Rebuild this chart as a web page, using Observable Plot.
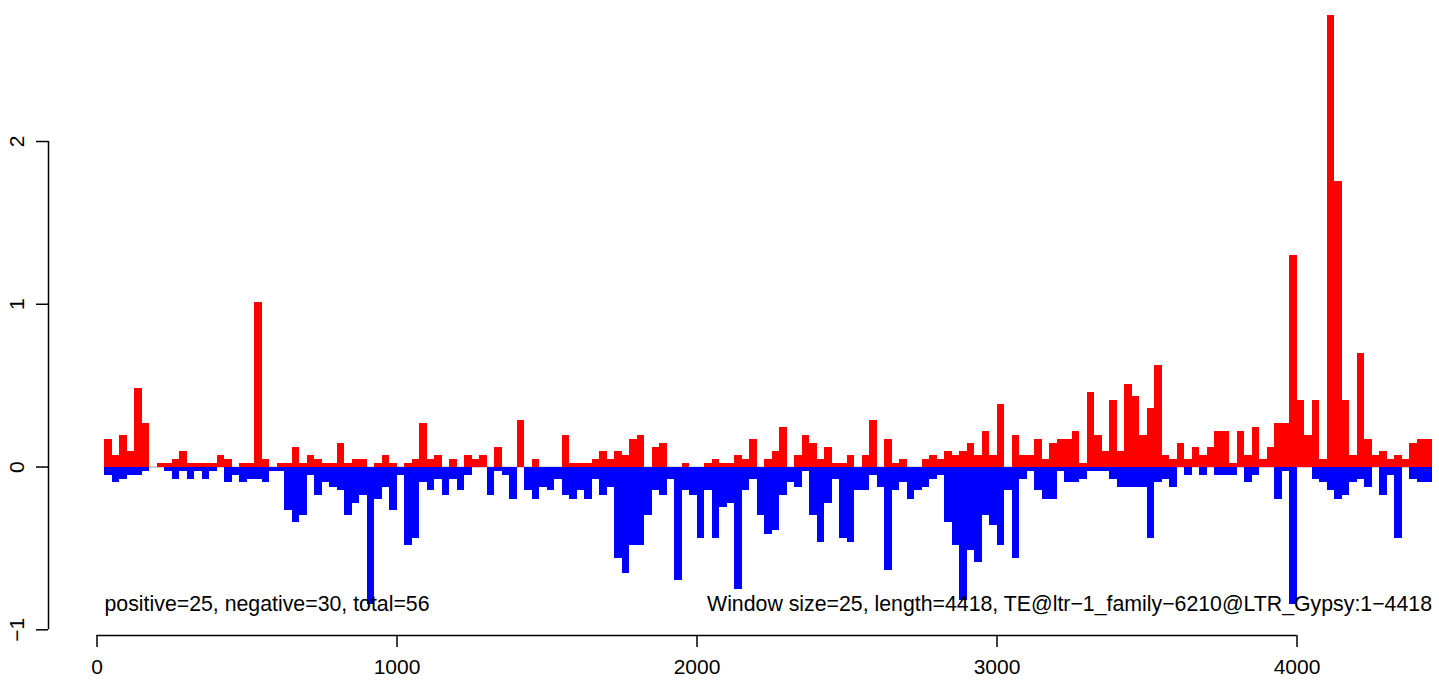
<!DOCTYPE html>
<html><head><meta charset="utf-8">
<script src="https://cdn.jsdelivr.net/npm/d3@7"></script>
<script src="https://cdn.jsdelivr.net/npm/@observablehq/plot@0.6"></script>
<style>html,body{margin:0;padding:0;background:#fff;} svg{display:block}</style>
</head><body><div id="chart"></div>
<script>
const windowSize = 25;
const posValues = [
0.170,0.072,0.195,0.096,0.483,0.268,0,0.023,0.023,0.047,
0.096,0.023,0.023,0.023,0.023,0.072,0.047,0,0.023,0.023,
1.01,0.047,0,0.023,0.023,0.121,0.023,0.072,0.047,0.023,
0.023,0.146,0.023,0.047,0.047,0,0.023,0.072,0.023,0,
0.023,0.047,0.268,0.047,0.072,0,0.047,0,0.072,0.047,
0.072,0,0.121,0,0,0.287,0,0.047,0,0,
0,0.195,0.023,0.023,0.023,0.047,0.096,0.047,0.096,0.072,
0.170,0.195,0,0.121,0.146,0,0,0.023,0,0,
0.023,0.047,0.023,0.023,0.072,0.047,0.170,0,0.047,0.096,
0.244,0,0.072,0.195,0.146,0.047,0.121,0.023,0.023,0.072,
0,0.072,0.287,0,0.170,0.023,0.047,0,0,0.047,
0.072,0.047,0.096,0.072,0.096,0.146,0.072,0.219,0.072,0.385,
0,0.195,0.072,0.072,0.170,0.047,0.146,0.170,0.170,0.219,
0.023,0.459,0.195,0.096,0.410,0.096,0.508,0.434,0.195,0.361,
0.625,0.072,0.047,0.146,0.047,0.121,0.072,0.121,0.219,0.219,
0.023,0.219,0.072,0.244,0.047,0.121,0.268,0.268,1.30,0.410,
0.195,0.410,0.047,2.774,1.754,0.410,0.072,0.700,0.170,0.072,
0.096,0.047,0.072,0.047,0.146,0.170,0.170
];
const negValues = [
0.049,0.098,0.074,0.049,0.049,0.025,0,0,0.025,0.074,
0.025,0.074,0.025,0.074,0.025,0,0.098,0.049,0.098,0.074,
0.074,0.098,0.025,0.025,0.270,0.338,0.295,0.049,0.172,0.098,
0.123,0.147,0.295,0.221,0.172,0.845,0.197,0.123,0.270,0.049,
0.485,0.436,0.098,0.147,0.074,0.172,0.074,0.147,0.049,0,
0,0.172,0.025,0.049,0.197,0,0.147,0.197,0.123,0.147,
0.074,0.172,0.197,0.147,0.197,0.074,0.172,0.123,0.559,0.657,
0.485,0.485,0.295,0.147,0.172,0.074,0.698,0.147,0.172,0.436,
0.147,0.436,0.246,0.221,0.750,0.147,0.074,0.295,0.412,0.387,
0.172,0.098,0.123,0.025,0.295,0.461,0.221,0.074,0.436,0.461,
0.147,0.147,0.049,0.123,0.633,0.147,0.098,0.197,0.147,0.123,
0.074,0.049,0.338,0.485,0.820,0.510,0.584,0.295,0.362,0.485,
0.147,0.559,0.074,0.025,0.147,0.197,0.197,0.025,0.098,0.098,
0.074,0.025,0.025,0.025,0.074,0.123,0.123,0.123,0.123,0.436,
0.098,0.074,0.123,0,0.049,0,0.049,0,0.049,0.049,
0.049,0,0.098,0.049,0,0,0.197,0.025,0.845,0,
0,0.074,0.098,0.147,0.197,0.172,0.098,0.074,0.123,0,
0.172,0.049,0.436,0,0.074,0.098,0.098
];
const xTicks = [0, 1000, 2000, 3000, 4000];
const yTicks = [-1, 0, 1, 2];
const leftLabel = "positive=25, negative=30, total=56";
const rightLabel = "Window size=25, length=4418, TE@ltr\u22121_family\u22126210@LTR_Gypsy:1\u22124418";

const bars = posValues.map((p, i) => ({
  x1: (i + 1) * windowSize,
  x2: (i + 2) * windowSize,
  pos: p,
  neg: -negValues[i]
}));
const xEnd = (posValues.length + 1) * windowSize;
const yMin = -Math.max(...negValues);
const xLo = -161.7, yLo = -1.035, yHi = 2.8;
const fmt = d => d < 0 ? "\u2212" + Math.abs(d) : String(d);

const chart = Plot.plot({
  width: 1439, height: 684,
  marginLeft: 48, marginRight: 7.5, marginTop: 10.8, marginBottom: 49,
  x: {domain: [xLo, xEnd]},
  y: {domain: [yLo, yHi]},
  style: {fontFamily: "'Liberation Sans', Arial, Helvetica, sans-serif", fontSize: "21px", color: "black", background: "white"},
  marks: [
    Plot.ruleY([0], {x1: windowSize, x2: xEnd, stroke: "#bebebe", strokeWidth: 1.2}),
    Plot.rect(bars, {x1: "x1", x2: "x2", y1: 0, y2: "pos", fill: "#ff0000", shapeRendering: "crispEdges"}),
    Plot.rect(bars, {x1: "x1", x2: "x2", y1: 0, y2: "neg", fill: "#0000ff", shapeRendering: "crispEdges"}),
    Plot.axisX(xTicks, {tickSize: 12, tickPadding: 12, tickFormat: fmt, strokeWidth: 1.5}),
    Plot.ruleY([yLo], {x1: xTicks[0], x2: xTicks[xTicks.length - 1], stroke: "black", strokeWidth: 1.5}),
    Plot.axisY(yTicks, {tickSize: 12, tickPadding: 13, tickRotate: -90, tickFormat: fmt, strokeWidth: 1.5}),
    Plot.ruleX([xLo], {y1: yTicks[0], y2: yTicks[yTicks.length - 1], stroke: "black", strokeWidth: 1.5}),
    Plot.text([leftLabel], {x: windowSize, y: yMin, text: d => d, textAnchor: "start", fill: "black", fontSize: 21.3}),
    Plot.text([rightLabel], {x: xEnd, y: yMin, text: d => d, textAnchor: "end", fill: "black", fontSize: 21.3})
  ]
});
document.getElementById("chart").appendChild(chart);
</script>
</body></html>
